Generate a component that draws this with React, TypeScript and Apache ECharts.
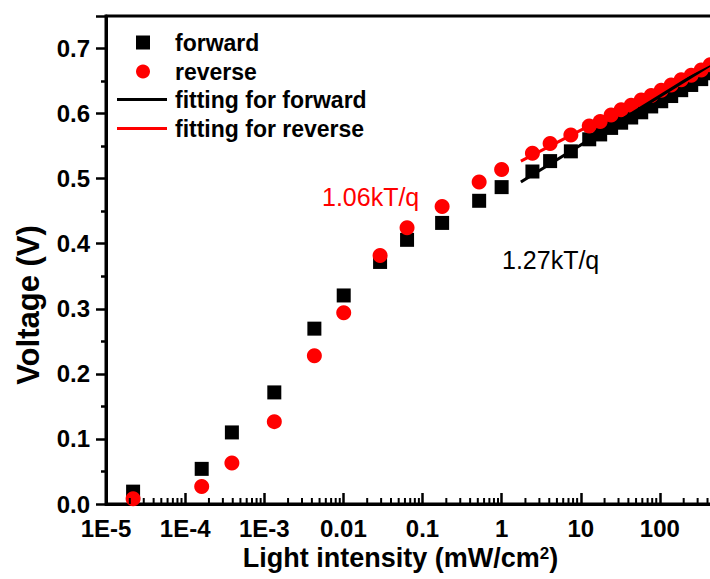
import React, { useEffect, useRef } from 'react';
import * as echarts from 'echarts';

// Light intensity (mW/cm2) of each measurement
const intensity = [
  2.2e-5, 1.62e-4, 3.9e-4, 1.34e-3, 4.3e-3, 0.0101, 0.0291, 0.0638, 0.177, 0.52,
  1.0, 2.45, 4.1, 7.5, 12.8, 17.6, 24.2, 32.4, 43.4, 58.1, 77.7, 104, 139, 186,
  249, 333, 433,
];
// Voltage (V), forward sweep
const forwardV = [
  0.019, 0.054, 0.110, 0.1715, 0.2695, 0.3205, 0.372, 0.406, 0.432, 0.466,
  0.487, 0.511, 0.527, 0.542, 0.5605, 0.568, 0.578, 0.586, 0.594, 0.602, 0.611,
  0.619, 0.627, 0.636, 0.644, 0.653, 0.662,
];
// Voltage (V), reverse sweep
const reverseV = [
  0.008, 0.027, 0.063, 0.1266, 0.2277, 0.294, 0.3818, 0.4247, 0.4574, 0.4948,
  0.514, 0.539, 0.554, 0.567, 0.581, 0.588, 0.598, 0.606, 0.613, 0.621, 0.628,
  0.636, 0.644, 0.652, 0.659, 0.667, 0.675,
];
// Fitted lines (end points)
const fitForward = [
  [1.75, 0.495],
  [1000, 0.702],
];
const fitReverse = [
  [1.75, 0.527],
  [1000, 0.7],
];
const xTickLabels = ['1E-5', '1E-4', '1E-3', '0.01', '0.1', '1', '10', '100'];
const decades = [-5, -4, -3, -2, -1, 0, 1, 2];
const mantissas = [2, 3, 4, 5, 6, 7, 8, 9];
const annotations = [
  { text: '1.06kT/q', color: '#ff0000' },
  { text: '1.27kT/q', color: '#000000' },
];

const FONT = '"Liberation Sans", Arial, Helvetica, sans-serif';

export default function App() {
  const ref = useRef<HTMLDivElement>(null);
  useEffect(() => {
    if (!ref.current) return;
    const chart = echarts.init(ref.current, null, { renderer: 'svg' });
    const minorTicks: number[][] = [];
    decades.forEach((d) => mantissas.forEach((m) => minorTicks.push([m * Math.pow(10, d), 0])));

    const legendText = { fontSize: 23, fontWeight: 'bold', color: '#000', fontFamily: FONT };

    const option: any = {
      animation: false,
      backgroundColor: '#ffffff',
      textStyle: { fontFamily: FONT },
      grid: {
        left: 106,
        top: 16,
        right: -29,
        bottom: 75,
        show: true,
        borderColor: '#000',
        borderWidth: 3,
        backgroundColor: 'transparent',
        outerBoundsMode: 'none',
        containLabel: false,
      },
      legend: [
        {
          orient: 'vertical',
          left: 136,
          top: 31,
          padding: 0,
          itemWidth: 14,
          itemHeight: 14,
          itemGap: 6,
          textStyle: { ...legendText, padding: [0, 0, 0, 20] },
          data: [
            { name: 'forward', icon: 'rect' },
            { name: 'reverse', icon: 'circle' },
          ],
        },
        {
          orient: 'vertical',
          left: 117,
          top: 88,
          padding: 0,
          itemWidth: 50,
          itemHeight: 3,
          itemGap: 6,
          textStyle: { ...legendText, padding: [0, 0, 0, 3] },
          data: [
            { name: 'fitting for forward', icon: 'rect' },
            { name: 'fitting for reverse', icon: 'rect' },
          ],
        },
      ],
      xAxis: {
        type: 'log',
        logBase: 10,
        min: 1e-5,
        max: 1000,
        splitNumber: 8,
        name: 'Light intensity (mW/cm{sup|2})',
        nameLocation: 'middle',
        nameGap: 39,
        nameTextStyle: {
          fontSize: 27,
          fontWeight: 'bold',
          color: '#000',
          fontFamily: FONT,
          padding: [0, 44, 0, 0],
          rich: {
            sup: {
              fontSize: 17,
              fontWeight: 'bold',
              color: '#000',
              fontFamily: FONT,
              verticalAlign: 'top',
              padding: [0, 0, 6, 0],
            },
          },
        },
        axisLine: { show: true, lineStyle: { color: '#000', width: 3 } },
        axisTick: { show: true, inside: true, length: 11, lineStyle: { color: '#000', width: 2.5 } },
        minorTick: { show: false },
        splitLine: { show: false },
        axisLabel: {
          margin: 12,
          fontSize: 24,
          fontWeight: 'bold',
          color: '#000',
          fontFamily: FONT,
          formatter: (v: number) => xTickLabels[Math.round(Math.log10(v)) + 5] ?? '',
        },
      },
      yAxis: {
        type: 'value',
        min: 0,
        max: 0.75,
        interval: 0.1,
        name: 'Voltage (V)',
        nameLocation: 'middle',
        nameGap: 62,
        nameTextStyle: {
          fontSize: 31,
          fontWeight: 'bold',
          color: '#000',
          fontFamily: FONT,
          padding: [0, 90, 0, 0],
        },
        axisLine: { show: true, lineStyle: { color: '#000', width: 3 } },
        axisTick: { show: true, inside: false, length: 10, lineStyle: { color: '#000', width: 2.5 } },
        minorTick: { show: true, splitNumber: 2, length: 5, lineStyle: { color: '#000', width: 2.5 } },
        splitLine: { show: false },
        minorSplitLine: { show: false },
        axisLabel: {
          margin: 16,
          fontSize: 24,
          fontWeight: 'bold',
          color: '#000',
          fontFamily: FONT,
          formatter: (v: number) => (v > 0.71 ? '' : v.toFixed(1)),
        },
      },
      series: [
        {
          name: 'minor',
          type: 'custom',
          silent: true,
          z: 5,
          data: minorTicks,
          renderItem: (_p: any, api: any) => {
            const pt = api.coord([api.value(0), 0]);
            return {
              type: 'line',
              shape: { x1: pt[0], y1: pt[1], x2: pt[0], y2: pt[1] - 6 },
              style: { stroke: '#000', lineWidth: 2 },
            };
          },
        },
        {
          name: 'forward',
          type: 'scatter',
          symbol: 'rect',
          symbolSize: 14,
          itemStyle: { color: '#000', opacity: 1 },
          data: intensity.map((x, i) => [x, forwardV[i]]),
          z: 2,
        },
        {
          name: 'reverse',
          type: 'scatter',
          symbol: 'circle',
          symbolSize: 15,
          itemStyle: { color: '#ff0000', opacity: 1 },
          data: intensity.map((x, i) => [x, reverseV[i]]),
          z: 3,
        },
        {
          name: 'fitting for forward',
          type: 'line',
          symbol: 'none',
          lineStyle: { color: '#000', width: 3 },
          itemStyle: { color: '#000' },
          data: fitForward,
          z: 4,
        },
        {
          name: 'fitting for reverse',
          type: 'line',
          symbol: 'none',
          lineStyle: { color: '#ff0000', width: 3 },
          itemStyle: { color: '#ff0000' },
          data: fitReverse,
          z: 4,
        },
      ],
      graphic: [
        {
          type: 'text',
          x: 322,
          y: 197,
          style: {
            text: annotations[0].text,
            fill: annotations[0].color,
            fontSize: 25,
            fontFamily: FONT,
            align: 'left',
            verticalAlign: 'middle',
          },
        },
        {
          type: 'text',
          x: 502,
          y: 260,
          style: {
            text: annotations[1].text,
            fill: annotations[1].color,
            fontSize: 25,
            fontFamily: FONT,
            align: 'left',
            verticalAlign: 'middle',
          },
        },
      ],
    };
    chart.setOption(option);
    return () => chart.dispose();
  }, []);
  return (
    <div
      ref={ref}
      style={{ position: 'fixed', left: 0, top: 0, width: 710, height: 579, background: '#fff' }}
    />
  );
}
